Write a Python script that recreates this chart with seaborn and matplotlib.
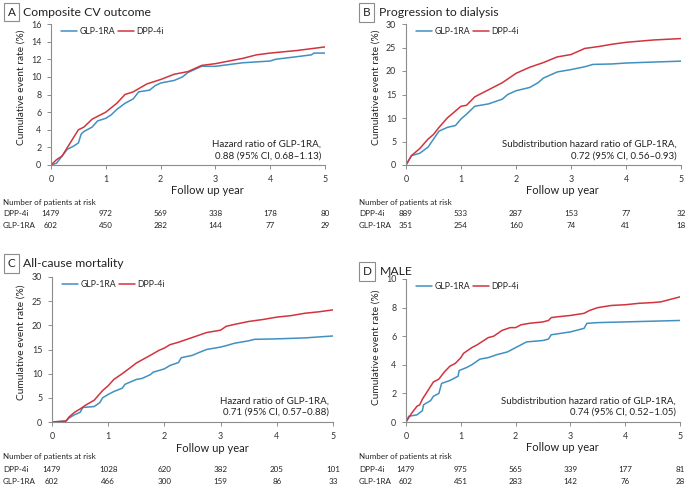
import numpy as np
import pandas as pd
import matplotlib
matplotlib.use("Agg")
import matplotlib.pyplot as plt
import matplotlib.transforms as mtrans
import seaborn as sns

# ---- data ----
groups = ["GLP-1RA", "DPP-4i"]

# A  composite CV outcome
a_glp_t = [0, 0.1, 0.2, 0.3, 0.4, 0.5, 0.55, 0.6, 0.75, 0.85, 1.0, 1.1, 1.2, 1.35, 1.5, 1.6, 1.8, 1.9, 2.0, 2.25, 2.4, 2.5, 2.75, 3.0, 3.25, 3.5, 4.0, 4.1, 4.5, 4.75, 4.8, 5.0]
a_glp_y = [0, 0.2, 1.0, 1.8, 2.1, 2.5, 3.5, 3.8, 4.3, 5.0, 5.3, 5.7, 6.3, 7.0, 7.5, 8.3, 8.5, 9.0, 9.3, 9.6, 10.0, 10.5, 11.2, 11.2, 11.4, 11.6, 11.8, 12.0, 12.3, 12.5, 12.7, 12.7]
a_dpp_t = [0, 0.1, 0.2, 0.3, 0.4, 0.5, 0.6, 0.75, 1.0, 1.2, 1.35, 1.5, 1.75, 2.0, 2.25, 2.5, 2.75, 3.0, 3.25, 3.5, 3.75, 4.0, 4.5, 5.0]
a_dpp_y = [0, 0.6, 1.0, 2.0, 3.0, 4.0, 4.3, 5.2, 6.0, 7.0, 8.0, 8.3, 9.2, 9.7, 10.3, 10.6, 11.3, 11.5, 11.8, 12.1, 12.5, 12.7, 13.0, 13.4]

# B  progression to dialysis
b_glp_t = [0, 0.1, 0.25, 0.4, 0.5, 0.6, 0.75, 0.9, 1.0, 1.1, 1.25, 1.5, 1.75, 1.85, 2.0, 2.25, 2.4, 2.5, 2.75, 3.0, 3.25, 3.4, 3.75, 4.0, 4.5, 5.0]
b_glp_y = [0, 2.0, 2.5, 3.8, 5.5, 7.2, 8.0, 8.4, 9.8, 10.8, 12.5, 13.0, 14.0, 15.0, 15.8, 16.5, 17.5, 18.5, 19.8, 20.3, 20.9, 21.4, 21.5, 21.7, 21.9, 22.1]
b_dpp_t = [0, 0.1, 0.25, 0.4, 0.5, 0.6, 0.75, 0.9, 1.0, 1.1, 1.25, 1.5, 1.75, 2.0, 2.25, 2.5, 2.75, 3.0, 3.25, 3.5, 3.75, 4.0, 4.5, 5.0]
b_dpp_y = [0, 2.0, 3.5, 5.5, 6.5, 8.0, 10.0, 11.5, 12.5, 12.7, 14.5, 16.0, 17.5, 19.5, 20.8, 21.8, 23.0, 23.5, 24.8, 25.2, 25.7, 26.1, 26.6, 26.9]

# C  all-cause mortality
c_glp_t = [0, 0.25, 0.3, 0.4, 0.5, 0.55, 0.75, 0.85, 0.9, 1.0, 1.1, 1.25, 1.3, 1.5, 1.6, 1.75, 1.8, 2.0, 2.1, 2.25, 2.3, 2.5, 2.6, 2.75, 3.0, 3.1, 3.25, 3.5, 3.6, 4.0, 4.5, 4.75, 5.0]
c_glp_y = [0, 0.2, 0.8, 1.5, 2.0, 3.0, 3.2, 4.0, 5.0, 5.7, 6.3, 7.0, 7.8, 8.8, 9.0, 9.8, 10.3, 11.0, 11.7, 12.3, 13.3, 13.8, 14.3, 15.0, 15.5, 15.8, 16.3, 16.8, 17.1, 17.2, 17.4, 17.6, 17.8]
c_dpp_t = [0, 0.25, 0.3, 0.4, 0.5, 0.6, 0.75, 0.9, 1.0, 1.1, 1.25, 1.4, 1.5, 1.75, 1.9, 2.0, 2.1, 2.25, 2.5, 2.75, 3.0, 3.1, 3.25, 3.5, 3.75, 4.0, 4.25, 4.5, 4.75, 5.0]
c_dpp_y = [0, 0.2, 1.0, 2.0, 2.7, 3.5, 4.5, 6.5, 7.5, 8.8, 10.0, 11.3, 12.2, 13.8, 14.8, 15.3, 16.0, 16.5, 17.5, 18.5, 19.0, 19.8, 20.2, 20.8, 21.2, 21.7, 22.0, 22.5, 22.8, 23.2]

# D  MALE
d_glp_t = [0, 0.05, 0.2, 0.3, 0.32, 0.45, 0.5, 0.6, 0.65, 0.8, 0.95, 0.97, 1.1, 1.2, 1.35, 1.5, 1.65, 1.85, 2.0, 2.2, 2.5, 2.6, 2.65, 3.0, 3.25, 3.3, 3.5, 4.0, 4.5, 5.0]
d_glp_y = [0, 0.4, 0.5, 0.8, 1.2, 1.5, 1.8, 2.0, 2.7, 2.9, 3.2, 3.6, 3.8, 4.0, 4.4, 4.5, 4.7, 4.9, 5.2, 5.6, 5.7, 5.8, 6.1, 6.3, 6.55, 6.9, 6.95, 7.0, 7.05, 7.1]
d_dpp_t = [0, 0.1, 0.2, 0.25, 0.3, 0.4, 0.5, 0.6, 0.7, 0.8, 0.9, 1.0, 1.05, 1.2, 1.3, 1.5, 1.6, 1.75, 1.9, 2.0, 2.1, 2.25, 2.5, 2.6, 2.65, 2.75, 3.0, 3.25, 3.35, 3.5, 3.75, 4.0, 4.25, 4.5, 4.65, 4.75, 5.0]
d_dpp_y = [0, 0.6, 1.1, 1.2, 1.6, 2.2, 2.8, 3.0, 3.5, 3.9, 4.1, 4.5, 4.8, 5.2, 5.4, 5.9, 6.0, 6.4, 6.6, 6.6, 6.8, 6.9, 7.0, 7.1, 7.3, 7.35, 7.45, 7.6, 7.8, 8.0, 8.15, 8.2, 8.3, 8.35, 8.4, 8.5, 8.75]

risk_years = [0, 1, 2, 3, 4, 5]
a_risk_dpp = [1479, 972, 569, 338, 178, 80]
a_risk_glp = [602, 450, 282, 144, 77, 29]
b_risk_dpp = [889, 533, 287, 153, 77, 32]
b_risk_glp = [351, 254, 160, 74, 41, 18]
c_risk_dpp = [1479, 1028, 620, 382, 205, 101]
c_risk_glp = [602, 466, 300, 159, 86, 33]
d_risk_dpp = [1479, 975, 565, 339, 177, 81]
d_risk_glp = [602, 451, 283, 142, 76, 28]

letters = ["A", "B", "C", "D"]
titles = ["Composite CV outcome", "Progression to dialysis", "All-cause mortality", "MALE"]
hr_text = ["Hazard ratio of GLP-1RA,\n0.88 (95% CI, 0.68\u20131.13)",
           "Subdistribution hazard ratio of GLP-1RA,\n0.72 (95% CI, 0.56\u20130.93)",
           "Hazard ratio of GLP-1RA,\n0.71 (95% CI, 0.57\u20130.88)",
           "Subdistribution hazard ratio of GLP-1RA,\n0.74 (95% CI, 0.52\u20131.05)"]
ymax = [16, 30, 30, 10]
ystep = [2, 5, 5, 2]

curves = [(a_glp_t, a_glp_y, a_dpp_t, a_dpp_y), (b_glp_t, b_glp_y, b_dpp_t, b_dpp_y),
          (c_glp_t, c_glp_y, c_dpp_t, c_dpp_y), (d_glp_t, d_glp_y, d_dpp_t, d_dpp_y)]
risks = [(a_risk_dpp, a_risk_glp), (b_risk_dpp, b_risk_glp),
         (c_risk_dpp, c_risk_glp), (d_risk_dpp, d_risk_glp)]

sns.set_theme(style="ticks")
plt.rcParams['font.family'] = ['Lato', 'DejaVu Sans']
palette = {"GLP-1RA": "#4190c0", "DPP-4i": "#d1343f"}
W, H = 685.0, 488.0

fig = plt.figure(figsize=(6.85, 4.88), dpi=100)

# axes boxes in pixels: left, top, right, bottom
boxes = [(51, 24, 325, 165), (406, 24, 681, 165), (52, 277, 333, 422), (406, 279, 680, 422)]
# title box (letter center x, center y, title x)
heads = [(11.5, 12, 23), (366.5, 12.5, 379), (11.5, 263.5, 23), (367, 271.5, 380)]
# risk table rows y (header, dpp, glp), label x
tables = [(202, 214, 226, 3), (202, 214, 226, 359), (457, 470, 481, 3), (457, 470, 481, 359)]
ylab_pos = [0.55, 0.55, 0.55, 0.52]

for i in range(4):
    l, t, r, b = boxes[i]
    ax = fig.add_axes([l / W, 1 - b / H, (r - l) / W, (b - t) / H])
    gt, gy, dt, dy = curves[i]
    df = pd.DataFrame({"year": gt + dt, "rate": gy + dy,
                       "group": ["GLP-1RA"] * len(gt) + ["DPP-4i"] * len(dt)})
    sns.lineplot(data=df, x="year", y="rate", hue="group", hue_order=groups,
                 palette=palette, estimator=None, linewidth=1.1, ax=ax)
    ax.set_xlim(0, 5)
    ax.set_ylim(0, ymax[i])
    ax.set_xticks(range(0, 6))
    ax.set_yticks(np.arange(0, ymax[i] + 1, ystep[i]))
    sns.despine(ax=ax)
    for s in ["left", "bottom"]:
        ax.spines[s].set_color("#8c8c8c")
        ax.spines[s].set_linewidth(0.8)
    ax.tick_params(labelsize=6.4, labelcolor="#333333", color="#8c8c8c", length=3, width=0.7, pad=4)
    ax.set_xlabel("Follow up year", fontsize=8, color="#222222")
    ax.set_ylabel("Cumulative event rate (%)", fontsize=7.3, color="#222222")
    ax.xaxis.set_label_coords(0.57, -0.18)
    ax.xaxis.label.set_va("center")
    ax.yaxis.set_label_coords(-0.11, ylab_pos[i])
    ax.yaxis.label.set_va("center")

    ax.legend(loc="center left", bbox_to_anchor=(0.036, 0.945), ncol=2, frameon=False,
              borderaxespad=0, borderpad=0, fontsize=6.3, handlelength=1.8,
              handletextpad=0.3, columnspacing=0.35)
    ax.text(0.985, 0.105, hr_text[i], transform=ax.transAxes, ha="right", va="center",
            fontsize=7, color="#222222", linespacing=1.3, multialignment="right")

    # panel heading
    lx, ly, tx = heads[i]
    fig.text(lx / W, 1 - ly / H, letters[i], ha="center", va="center", fontsize=8.5, color="#222222",
             bbox=dict(boxstyle="square,pad=0.3", fc="white", ec="#8c8c8c", lw=0.8))
    fig.text(tx / W, 1 - ly / H, titles[i], ha="left", va="center", fontsize=8.8, color="#222222")

    # number at risk table
    hy, ry1, ry2, tx0 = tables[i]
    trans = mtrans.blended_transform_factory(ax.transData, fig.transFigure)
    fig.text(tx0 / W, 1 - hy / H, "Number of patients at risk", fontsize=5.8, va="center", color="#222222")
    fig.text(tx0 / W, 1 - ry1 / H, "DPP-4i", fontsize=5.8, va="center", color="#222222")
    fig.text(tx0 / W, 1 - ry2 / H, "GLP-1RA", fontsize=5.8, va="center", color="#222222")
    rd, rg = risks[i]
    for k, yr in enumerate(risk_years):
        ax.text(yr, 1 - ry1 / H, str(rd[k]), transform=trans, ha="center", va="center",
                fontsize=5.8, color="#222222", clip_on=False)
        ax.text(yr, 1 - ry2 / H, str(rg[k]), transform=trans, ha="center", va="center",
                fontsize=5.8, color="#222222", clip_on=False)

fig.savefig("out.png", dpi=100)
